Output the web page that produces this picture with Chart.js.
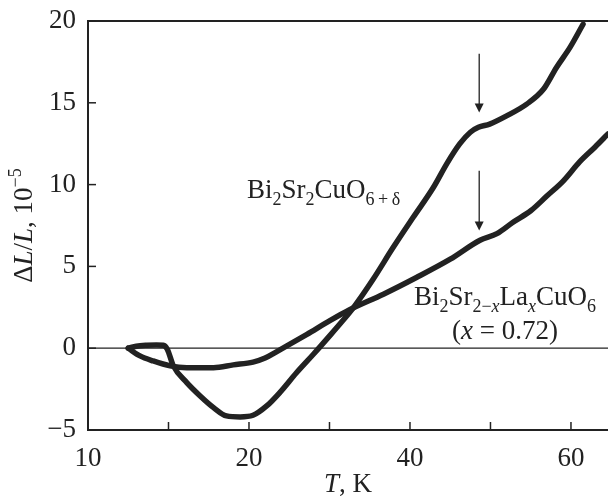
<!DOCTYPE html>
<html>
<head>
<meta charset="utf-8">
<script src="https://cdn.jsdelivr.net/npm/chart.js@4/dist/chart.umd.min.js"></script>
<style>
  html, body { margin: 0; padding: 0; background: #fff; }
  #wrap { width: 608px; height: 499px; position: relative; }
</style>
</head>
<body>
<div id="wrap"><canvas id="dl"></canvas></div>
<script>
// Bi2Sr2CuO6+d, thermal expansion (T in K, dL/L in 1e-5)
const pureT = [5.0, 6.0, 7.3, 8.5, 9.35, 9.85, 10.6, 12.27, 13.9, 15.6, 17.2, 18.9, 20.5, 22.2, 23.85, 25.9, 28.0,
  30.1, 31.5, 33.0, 35.4, 37.9, 40.4, 42.9, 44.6, 46.2, 47.5, 48.5, 49.9, 52.0, 54.5, 56.6, 58.2, 59.9, 61.5];
const pureDL = [0.0, 0.12, 0.18, 0.2, 0.18, -0.06, -1.08, -2.1, -2.9, -3.63, -4.14, -4.2, -4.1, -3.53, -2.7, -1.5, -0.37,
  0.8, 1.6, 2.5, 4.2, 6.15, 8.0, 9.82, 11.3, 12.5, 13.2, 13.5, 13.7, 14.2, 14.92, 15.84, 17.16, 18.4, 19.8];

// Bi2Sr2-xLaxCuO6, x = 0.72
const laT = [5.0, 6.46, 8.1, 10.2, 12.27, 15.6, 18.05, 20.5, 22.0, 23.3, 24.7, 27.2, 30.1, 32.5, 36.7, 40.8,
  45.0, 48.7, 50.8, 52.8, 55.0, 57.0, 59.0, 61.1, 63.0, 64.6];
const laDL = [0.0, -0.47, -0.78, -1.08, -1.19, -1.19, -1.02, -0.85, -0.6, -0.25, 0.14, 0.85, 1.7, 2.35, 3.3, 4.32,
  5.44, 6.6, 7.0, 7.7, 8.4, 9.3, 10.2, 11.4, 12.3, 13.1];

const xTicks = [0, 10, 20, 30, 40, 50, 60];
const xTickLabels = ['10', '', '20', '', '40', '', '60'];
const yTicks = [-5, 0, 5, 10, 15, 20];

// anomaly markers: x, from, to
const arrows = [
  { x: 48.6, from: 18.0, to: 14.4 },
  { x: 48.6, from: 10.85, to: 7.2 },
];

const INK = '#222';
const SERIF = '"Liberation Serif", "Times New Roman", serif';
const FS = 27;

const toPts = (xs, ys) => xs.map((x, i) => ({ x, y: ys[i] }));

function fontFor(p, size) {
  const s = (p.sub || p.sup) ? Math.round(size * 0.68) : size;
  return `${p.i ? 'italic ' : ''}${s}px ${SERIF}`;
}

function richWidth(ctx, parts, size) {
  let w = 0;
  parts.forEach(p => {
    ctx.font = fontFor(p, size);
    w += ctx.measureText(p.t).width;
  });
  return w;
}

// draws a run of text pieces: i = italic, sub/sup shift
function drawRich(ctx, parts, x, y, size, align) {
  let cx = x;
  if (align === 'center') cx -= richWidth(ctx, parts, size) / 2;
  ctx.textBaseline = 'alphabetic';
  ctx.textAlign = 'left';
  parts.forEach(p => {
    ctx.font = fontFor(p, size);
    let dy = 0;
    if (p.sub) dy = size * 0.26;
    if (p.sup) dy = -size * 0.42;
    ctx.fillText(p.t, cx, y + dy);
    cx += ctx.measureText(p.t).width;
  });
}

const labels = [
  { x: 19.75, y: 9.2, align: 'left', parts: [
    { t: 'Bi' }, { t: '2', sub: true }, { t: 'Sr' }, { t: '2', sub: true }, { t: 'CuO' }, { t: '6\u2009+\u2009δ', sub: true },
  ] },
  { x: 51.8, y: 2.65, align: 'center', parts: [
    { t: 'Bi' }, { t: '2', sub: true }, { t: 'Sr' }, { t: '2−', sub: true }, { t: 'x', sub: true, i: true },
    { t: 'La' }, { t: 'x', sub: true, i: true }, { t: 'CuO' }, { t: '6', sub: true },
  ] },
  { x: 51.8, y: 0.57, align: 'center', parts: [
    { t: '(' }, { t: 'x', i: true }, { t: ' = 0.72)' },
  ] },
];

const decor = {
  id: 'decor',
  afterDraw(chart) {
    const { ctx, chartArea: a, scales: { x, y } } = chart;
    ctx.save();
    ctx.strokeStyle = INK;
    ctx.fillStyle = INK;

    // top frame and zero line
    ctx.lineWidth = 2;
    ctx.beginPath();
    ctx.moveTo(a.left - 1, a.top);
    ctx.lineTo(a.right, a.top);
    ctx.stroke();
    ctx.lineWidth = 1.2;
    ctx.beginPath();
    ctx.moveTo(a.left, y.getPixelForValue(0));
    ctx.lineTo(a.right, y.getPixelForValue(0));
    ctx.stroke();

    // inward ticks
    ctx.lineWidth = 1.5;
    xTicks.forEach(v => {
      const px = x.getPixelForValue(v);
      ctx.beginPath();
      ctx.moveTo(px, a.bottom);
      ctx.lineTo(px, a.bottom - 8);
      ctx.stroke();
    });
    yTicks.forEach(v => {
      const py = y.getPixelForValue(v);
      ctx.beginPath();
      ctx.moveTo(a.left, py);
      ctx.lineTo(a.left + 8, py);
      ctx.stroke();
    });

    // arrows
    arrows.forEach(ar => {
      const px = x.getPixelForValue(ar.x);
      const p0 = y.getPixelForValue(ar.from);
      const p1 = y.getPixelForValue(ar.to);
      ctx.lineWidth = 1.3;
      ctx.beginPath();
      ctx.moveTo(px, p0);
      ctx.lineTo(px, p1 - 8);
      ctx.stroke();
      ctx.beginPath();
      ctx.moveTo(px - 4.5, p1 - 9);
      ctx.lineTo(px + 4.5, p1 - 9);
      ctx.lineTo(px, p1);
      ctx.closePath();
      ctx.fill();
    });

    // curve labels
    labels.forEach(l => {
      drawRich(ctx, l.parts, x.getPixelForValue(l.x), y.getPixelForValue(l.y), FS, l.align);
    });

    // axis titles
    drawRich(ctx, [{ t: 'T', i: true }, { t: ', K' }], (a.left + a.right) / 2, 492, FS, 'center');
    ctx.translate(32, (a.top + a.bottom) / 2);
    ctx.rotate(-Math.PI / 2);
    drawRich(ctx, [{ t: 'Δ' }, { t: 'L', i: true }, { t: '/' }, { t: 'L', i: true }, { t: ', 10' }, { t: '−5', sup: true }],
      0, 0, FS, 'center');
    ctx.restore();
  },
};

const curve = (data) => ({
  data,
  borderColor: INK,
  borderWidth: 5.5,
  borderCapStyle: 'round',
  borderJoinStyle: 'round',
  pointRadius: 0,
  cubicInterpolationMode: 'monotone',
  fill: false,
});

new Chart(document.getElementById('dl'), {
  type: 'line',
  data: {
    datasets: [curve(toPts(pureT, pureDL)), curve(toPts(laT, laDL))],
  },
  plugins: [decor],
  options: {
    responsive: true,
    maintainAspectRatio: false,
    animation: false,
    layout: { padding: { top: 21, right: 0, left: 0, bottom: 0 } },
    plugins: { legend: { display: false }, tooltip: { enabled: false } },
    scales: {
      x: {
        type: 'linear',
        min: 0,
        max: 64.6,
        afterBuildTicks: (s) => { s.ticks = xTicks.map(v => ({ value: v })); },
        afterFit: (s) => { s.height = 69; s.paddingLeft = 0; s.paddingRight = 0; },
        grid: { display: false, drawTicks: false },
        border: { display: true, color: INK, width: 2 },
        ticks: {
          padding: 13,
          color: INK,
          font: { family: SERIF, size: FS },
          maxRotation: 0,
          callback: (v, i) => xTickLabels[i],
        },
      },
      y: {
        type: 'linear',
        min: -5,
        max: 20,
        afterBuildTicks: (s) => { s.ticks = yTicks.map(v => ({ value: v })); },
        afterFit: (s) => { s.width = 88; s.paddingTop = 0; s.paddingBottom = 0; },
        grid: { display: false, drawTicks: false },
        border: { display: true, color: INK, width: 2 },
        ticks: {
          padding: 12,
          color: INK,
          font: { family: SERIF, size: FS },
          callback: (v) => (v < 0 ? '−' + Math.abs(v) : String(v)),
        },
      },
    },
  },
});
</script>
</body>
</html>
